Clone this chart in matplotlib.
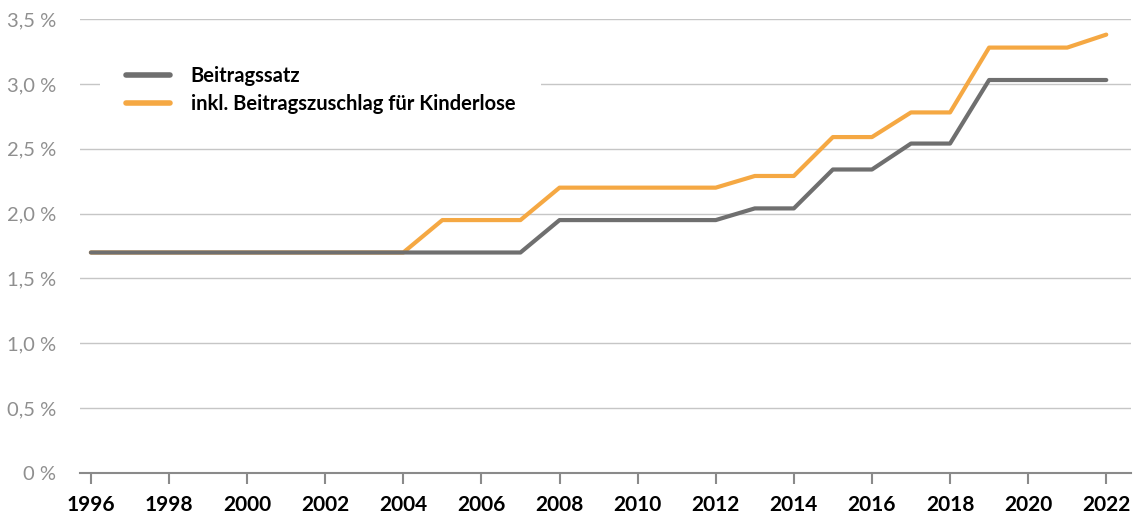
import numpy as np
import matplotlib
matplotlib.use("Agg")
import matplotlib.pyplot as plt
from matplotlib.ticker import FuncFormatter

plt.rcParams["font.family"] = ["Lato", "DejaVu Sans"]

years = list(range(1996, 2023))
beitragssatz = [1.7] * 12 + [1.95] * 5 + [2.04] * 2 + [2.34] * 2 + [2.54] * 2 + [3.03] * 4
kinderlose = [1.7] * 9 + [1.95] * 3 + [2.2] * 5 + [2.29] * 2 + [2.59] * 2 + [2.78] * 2 + [3.28] * 3 + [3.38]
labels = ["Beitragssatz", "inkl. Beitragszuschlag für Kinderlose"]

GREY = "#6f6f6f"
ORANGE = "#f5a843"

fig = plt.figure(figsize=(11.39, 5.15), dpi=100)
ax = fig.add_axes([0.0702, 0.0816, 0.923, 0.8814])

l2, = ax.plot(years, kinderlose, color=ORANGE, lw=3, solid_capstyle="round", zorder=3)
l1, = ax.plot(years, beitragssatz, color=GREY, lw=3, solid_capstyle="round", zorder=4)

ax.set_xlim(1995.72, 2022.64)
ax.set_ylim(0, 3.5)
ax.set_yticks(np.arange(0, 3.51, 0.5))
ax.yaxis.set_major_formatter(FuncFormatter(
    lambda v, _: "0 %" if v == 0 else f"{v:.1f} %".replace(".", ",")))
ax.set_xticks(range(1996, 2023, 2))

ax.grid(axis="y", color="#c6c6c6", lw=1)
ax.set_axisbelow(True)
for s in ["top", "right", "left"]:
    ax.spines[s].set_visible(False)
ax.spines["bottom"].set_color("#8a8a8a")
ax.spines["bottom"].set_linewidth(1.5)
ax.spines["bottom"].set_zorder(5)

ax.tick_params(axis="y", length=0, pad=17, labelsize=14.5, labelcolor="#8f8f8f")
ax.tick_params(axis="x", length=8, width=1.5, color="#8a8a8a", pad=8, labelsize=15)
for t in ax.get_xticklabels():
    t.set_fontweight("bold")

leg = ax.legend([l1, l2], labels, loc="upper left", bbox_to_anchor=(0.019, 0.955),
                borderaxespad=0, frameon=True, facecolor="white", edgecolor="none",
                framealpha=1, fancybox=False, handlelength=2.2, handletextpad=1.0,
                labelspacing=0.4, borderpad=1.3,
                prop={"weight": "bold", "size": 14.5})
for h in leg.get_lines():
    h.set_linewidth(4)

fig.savefig("out.png", dpi=100)
